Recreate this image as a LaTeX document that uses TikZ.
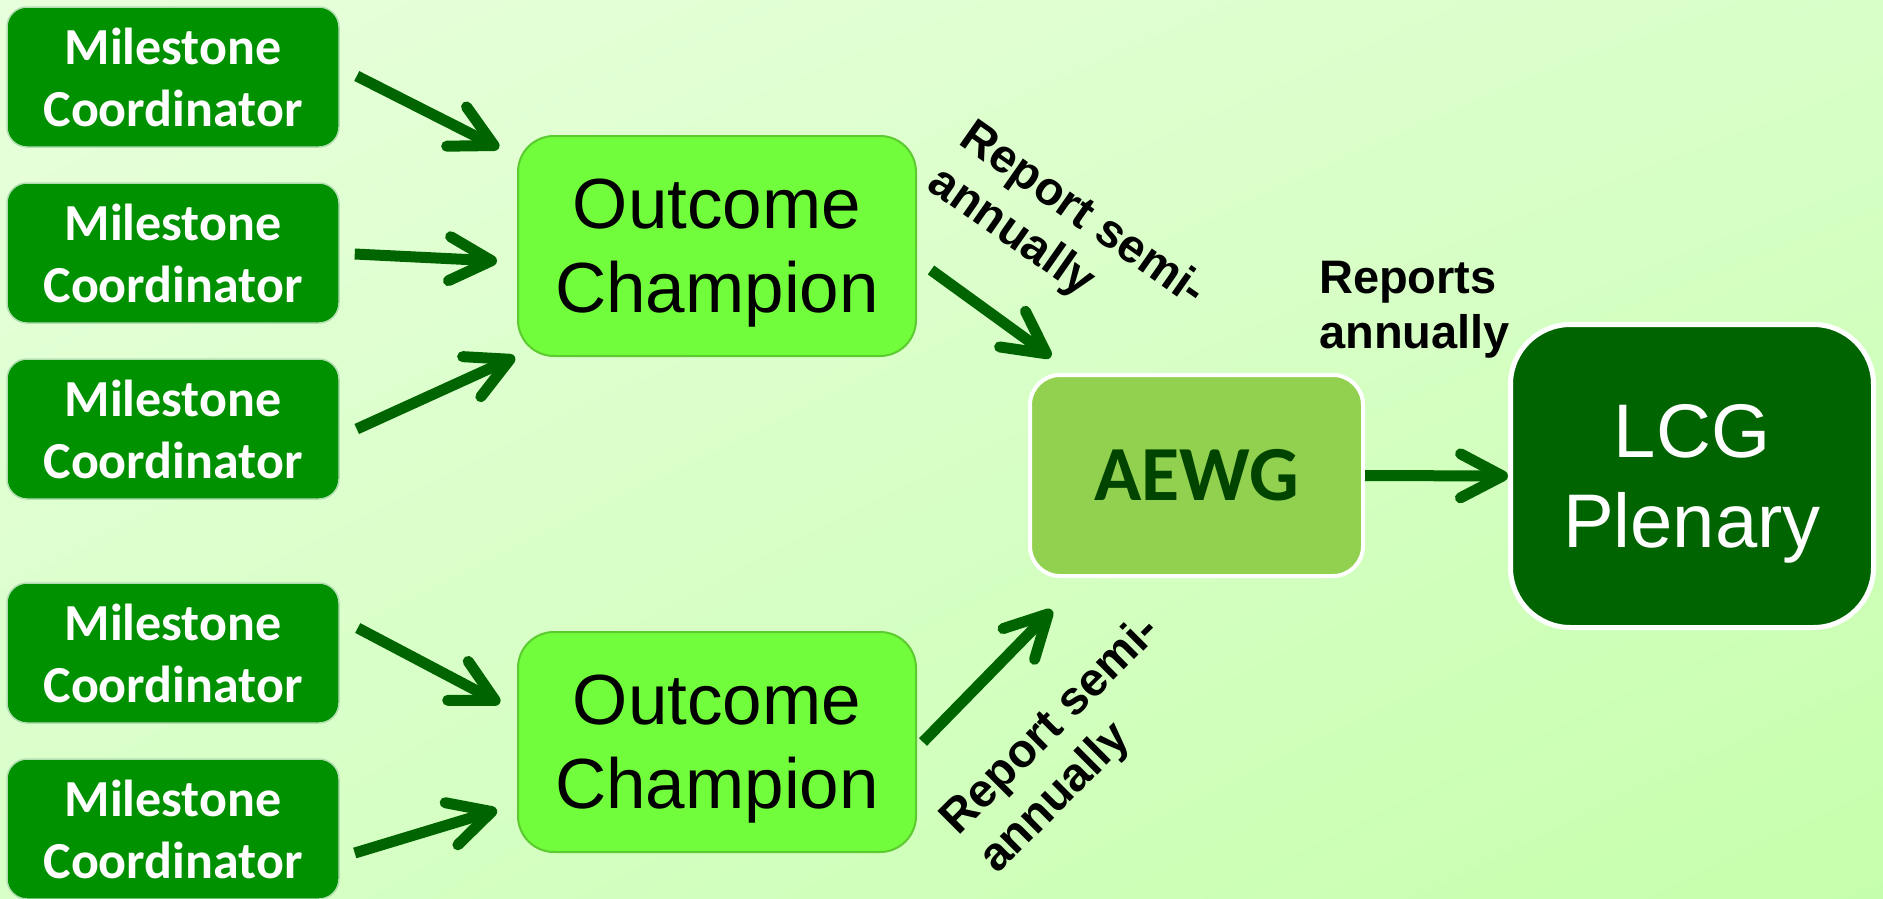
\documentclass[tikz,border=0pt]{standalone}
\usepackage{fontspec}
\setmainfont{Liberation Sans}
\newfontfamily\calib{Carlito}
\usetikzlibrary{arrows.meta,calc,shadings}
\definecolor{bgA}{HTML}{E8FFDC}
\definecolor{bgB}{HTML}{D8FFC8}
\definecolor{bgC}{HTML}{C6FFAC}
\definecolor{msfill}{HTML}{009100}
\definecolor{ocfill}{HTML}{72FD3C}
\definecolor{ocedge}{HTML}{5CCB30}
\definecolor{aefill}{HTML}{92D050}
\definecolor{aetext}{HTML}{004400}
\definecolor{lcgfill}{HTML}{006400}
\definecolor{arrcol}{HTML}{006400}
\tikzset{
  msbox/.style={rectangle, rounded corners=20pt, fill=msfill, draw=white!70!msfill, line width=1.5pt,
    minimum width=332pt, minimum height=140pt, inner sep=0pt, align=center, text=white,
    font=\calib\bfseries\fontsize{52}{62}\selectfont},
  ocbox/.style={rectangle, rounded corners=36pt, fill=ocfill, draw=ocedge, line width=2pt,
    minimum width=398pt, minimum height=220pt, inner sep=0pt, align=center, text=black,
    text depth=0pt, font=\fontsize{71}{84}\selectfont},
  aebox/.style={rectangle, rounded corners=30pt, fill=aefill, draw=white, line width=4pt,
    minimum width=333pt, minimum height=201pt, inner sep=0pt, text=aetext,
    font=\calib\bfseries\fontsize{78}{84}\selectfont},
  lcgbox/.style={rectangle, rounded corners=60pt, fill=lcgfill, draw=white, line width=5pt,
    minimum width=363pt, minimum height=303pt, inner sep=0pt, align=center, text=white,
    text depth=0pt, font=\fontsize{76}{90}\selectfont},
  lbl/.style={inner sep=0pt, align=left, text=black, font=\bfseries\fontsize{47}{55}\selectfont},
  arr/.style={draw=arrcol, line width=11pt, -{Straight Barb[length=42pt,width=44pt,round]}},
}
\begin{document}
\begin{tikzpicture}[x=1pt,y=-1pt]
\useasboundingbox (0,0) rectangle (1883,898);
\shade[upper left=bgA, upper right=bgB, lower left=bgB, lower right=bgC] (0,0) rectangle (1883,898);

\node[msbox] (m1) at (173,77) {Milestone\\Coordinator};
\node[msbox] (m2) at (173,253) {Milestone\\Coordinator};
\node[msbox] (m3) at (173,429) {Milestone\\Coordinator};
\node[msbox] (m4) at (173,653) {Milestone\\Coordinator};
\node[msbox] (m5) at (173,829) {Milestone\\Coordinator};

\node[ocbox] (oc1) at (717,246) {Outcome\\Champion};
\node[ocbox] (oc2) at (717,742) {Outcome\\Champion};

\node[aebox] (ae) at (1196.5,475.5) {AEWG};
\node[lcgbox] (lcg) at (1692,476) {LCG\\Plenary};

\node[lbl, anchor=north west] (lr) at (1319,261) {Reports\\annually};
\node[lbl, anchor=north west, rotate=-35] (l1) at (977,115) {Report semi-\\annually};
\node[lbl, anchor=north west, rotate=45] (l2) at (934,812) {Report semi-\\annually};

\draw[arr] ($(m1.east)+(17,-1)$) -- ($(oc1.north west)+(-18,13)$);
\draw[arr] ($(m2.east)+(15,1)$) -- ($(oc1.west)+(-20,15)$);
\draw[arr] ($(m3.east)+(17,0)$) -- ($(oc1.south west)+(-2,0)$);
\draw[arr] ($(oc1.east)+(14,24)$) -- ($(ae.north west)+(23,-16)$);
\draw[arr] ($(m4.east)+(18,-25)$) -- ($(oc2.west)+(-17,-39)$);
\draw[arr] ($(m5.east)+(15,24)$) -- ($(oc2.west)+(-20,68)$);
\draw[arr] ($(oc2.east)+(6,0)$) -- ($(ae.south west)+(24,32)$);
\draw[arr] (ae.east) -- (lcg.west);
\end{tikzpicture}
\end{document}
